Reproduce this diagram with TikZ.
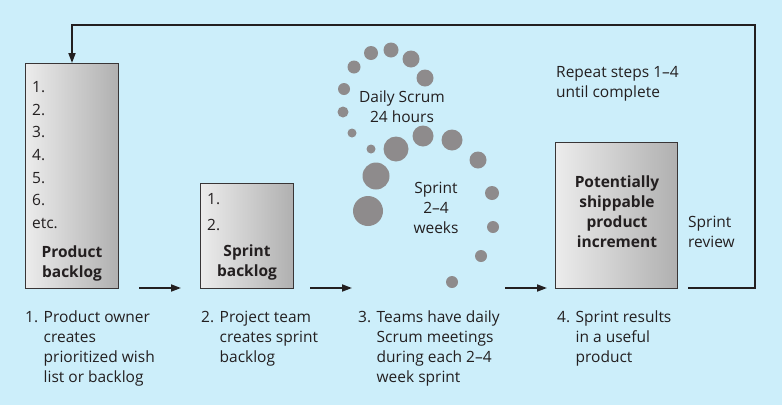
\documentclass[tikz,border=0pt]{standalone}
\usepackage{fontspec}
\setmainfont{Open Sans}
\usetikzlibrary{arrows.meta,calc}

\definecolor{skybg}{HTML}{CCEEFA}
\definecolor{dotgray}{HTML}{8E8B8C}
\definecolor{linedark}{HTML}{231F20}

\begin{document}
\begin{tikzpicture}[x=1pt,y=-1pt,
  box/.style={draw=linedark!90,line width=1pt,left color=gray!15,right color=gray!62,anchor=north west,inner sep=0pt},
  lbl/.style={font=\fontsize{15.5}{20}\selectfont,text=linedark,inner sep=0pt},
  blbl/.style={lbl,font=\fontsize{15.5}{20}\selectfont\bfseries},
  flow/.style={draw=linedark,line width=1.8pt,-{Triangle[length=10pt,width=7pt]}},
  dot/.style={fill=dotgray}]

\fill[skybg] (0,0) rectangle (782,405);
\useasboundingbox (0,0) rectangle (782,405);

% the three boxes
\node[box,minimum width=93,minimum height=225] (pbox) at (25,63) {};
\node[box,minimum width=93,minimum height=105] (sbox) at (200,183) {};
\node[box,minimum width=122,minimum height=146] (ibox) at (555,142) {};

% backlog items
\foreach \t [count=\i from 0] in {1.,2.,3.,4.,5.,6.,etc.}
  \node[lbl,anchor=base west] (p\i) at (32,{92.5+22.67*\i}) {\t};
\node[lbl,anchor=base west] (q1) at (207,204.5) {1.};
\node[lbl,anchor=base west] (q2) at (207,230.5) {2.};

\node[blbl,anchor=north] (plab) at (pbox.center |- 0,243) {\begin{tabular}{@{}c@{}}Product\\backlog\end{tabular}};
\node[blbl,anchor=north] (slab) at (sbox.center |- 0,242) {\begin{tabular}{@{}c@{}}Sprint\\backlog\end{tabular}};
\node[blbl,anchor=north] (ilab) at (617,173) {\begin{tabular}{@{}c@{}}Potentially\\shippable\\product\\increment\end{tabular}};

% sprint cycle
\foreach \x/\y/\r in {371/53/7,391/50/7.5,411/59/8.5,425/78/8.5,354/67/6.5,344/89/6,
    343/112/5.5,352/133/4.5,371/149/4.5,396/149/12.5,423/136/10.5,452/140/10.5,
    478/160/8.5,376/176/13.5,368/211/15,492/193/7,493/227/6,481/256/6,452/282/6}
  \fill[dot] (\x,\y) circle[radius=\r pt];

\node[lbl,anchor=north] (daily) at (402,88) {\begin{tabular}{@{}c@{}}Daily Scrum\\24 hours\end{tabular}};
\node[lbl,anchor=north] (sprint) at (436,179) {\begin{tabular}{@{}c@{}}Sprint\\2--4\\weeks\end{tabular}};
\node[lbl,anchor=north west] (repeat) at (556,63) {\begin{tabular}{@{}l@{}}Repeat steps 1--4\\until complete\end{tabular}};
\node[lbl,anchor=north west] (review) at (688,213) {\begin{tabular}{@{}l@{}}Sprint\\review\end{tabular}};

% steps
\node[lbl,anchor=north west] (st1) at (25,308) {\begin{tabular}{@{}l@{\hspace{5.5pt}}l@{}}1.&Product owner\\&creates\\&prioritized wish\\&list or backlog\end{tabular}};
\node[lbl,anchor=north west] (st2) at (201,308) {\begin{tabular}{@{}l@{\hspace{5.5pt}}l@{}}2.&Project team\\&creates sprint\\&backlog\end{tabular}};
\node[lbl,anchor=north west] (st3) at (358,308) {\begin{tabular}{@{}l@{\hspace{5.5pt}}l@{}}3.&Teams have daily\\&Scrum meetings\\&during each 2--4\\&week sprint\end{tabular}};
\node[lbl,anchor=north west] (st4) at (557,308) {\begin{tabular}{@{}l@{\hspace{5.5pt}}l@{}}4.&Sprint results\\&in a useful\\&product\end{tabular}};

% arrows
\coordinate (a1s) at (139,288); \coordinate (a1e) at (181,288);
\coordinate (a2s) at (310,288); \coordinate (a2e) at (352,288);
\coordinate (a3s) at (505,288); \coordinate (a3e) at (547,288);
\draw[flow] (a1s) -- (a1e);
\draw[flow] (a2s) -- (a2e);
\draw[flow] (a3s) -- (a3e);

\coordinate (rv) at (688,288);
\draw[flow] (rv) -| (755,25) -| (pbox.north);
\end{tikzpicture}
\end{document}
